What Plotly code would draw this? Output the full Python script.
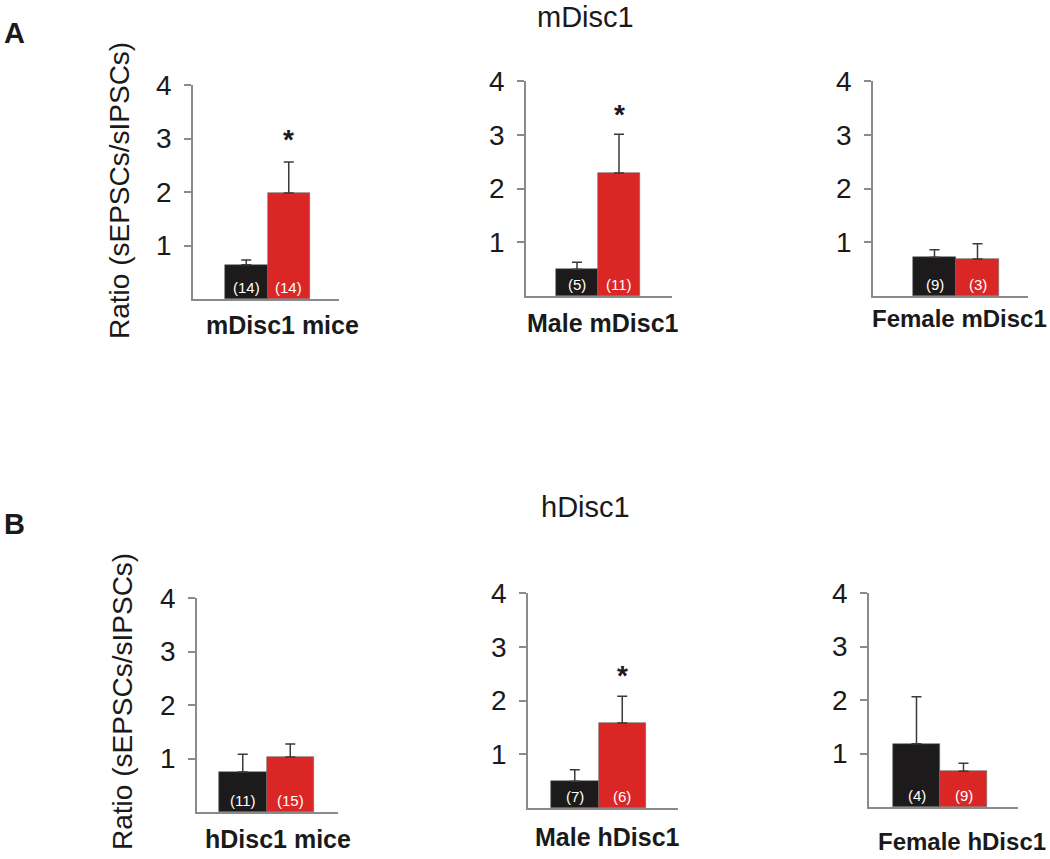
import plotly.graph_objects as go

# ---------------- data ----------------
groups = ["mDisc1 mice", "Male mDisc1", "Female mDisc1",
          "hDisc1 mice", "Male hDisc1", "Female hDisc1"]
ctrl_mean = [0.64, 0.50, 0.72, 0.75, 0.50, 1.18]
ctrl_err = [0.09, 0.13, 0.14, 0.33, 0.21, 0.88]
mut_mean = [1.98, 2.29, 0.69, 1.03, 1.58, 0.67]
mut_err = [0.58, 0.72, 0.28, 0.24, 0.50, 0.15]
ctrl_n = ["(14)", "(5)", "(9)", "(11)", "(7)", "(4)"]
mut_n = ["(14)", "(11)", "(3)", "(15)", "(6)", "(9)"]
star_y = [3.12, 3.5, None, None, 2.6, None]
y_ticks = [1, 2, 3, 4]
section_titles = ["mDisc1", "hDisc1"]
panel_letters = ["A", "B"]
y_title = "Ratio (sEPSCs/sIPSCs)"

# ---------------- layout geometry (pixels) ----------------
W, H = 1050, 859
# (axis left, axis right, black bar left, bar width, baseline, y=4 position)
panels = [
    (193, 339, 225, 42.5, 299, 85),
    (526, 672, 556, 42.0, 296, 81),
    (873, 1028, 913, 43.0, 296, 81),
    (197, 338, 219, 47.5, 812, 598),
    (528, 678, 551, 47.5, 808, 593),
    (869, 1018, 893, 47.0, 807, 593),
]
group_label_pos = [(282, 325), (603, 323), (959, 318),
                   (278, 839), (607, 837), (962, 841)]
group_label_size = [25, 25, 24, 25, 25, 24]

BLACK = "#1c1a1a"
RED = "#da2726"
AXIS = "#8a8a8a"
FONT = "Liberation Sans, Arial, sans-serif"


def px(x):
    return x / W


def py(y):
    return 1 - y / H


fig = go.Figure()
annotations = []
layout_axes = {}

for i, (l, r, bl, w, base, top) in enumerate(panels):
    k = "" if i == 0 else str(i + 1)
    xa, ya = "x" + k, "y" + k
    c0 = bl + w / 2.0
    xr = [(l - c0) / w, (r - c0) / w]
    fig.add_trace(go.Bar(
        x=[0, 1], y=[ctrl_mean[i], mut_mean[i]], width=1,
        marker=dict(color=[BLACK, RED], line=dict(color="#6a6a6a", width=0.6)),
        error_y=dict(type="data", symmetric=False,
                     array=[ctrl_err[i], mut_err[i]], arrayminus=[0, 0],
                     color="#3a3a3a", thickness=1.5, width=5),
        xaxis=xa, yaxis=ya, showlegend=False, hoverinfo="skip"))
    layout_axes["xaxis" + k] = dict(
        domain=[px(l), px(r)], range=xr, showgrid=False, zeroline=False,
        showticklabels=False, ticks="", showline=True, linecolor=AXIS,
        linewidth=1.5, anchor=ya, fixedrange=True, automargin=False)
    layout_axes["yaxis" + k] = dict(
        domain=[py(base), py(top)], range=[0, 4], showgrid=False,
        zeroline=False, tickvals=y_ticks, ticks="outside", ticklen=7,
        tickcolor=AXIS, tickwidth=1.5, showline=True, linecolor=AXIS,
        linewidth=1.5, anchor=xa, ticklabelstandoff=7, automargin=False,
        tickfont=dict(family=FONT, size=28, color="#1a1a1a"), fixedrange=True)
    # n labels
    for xv, txt in zip([0, 1], [ctrl_n[i], mut_n[i]]):
        annotations.append(dict(
            x=xv, y=0, xref=xa, yref=ya, text=txt, showarrow=False,
            yanchor="bottom", yshift=1,
            font=dict(family=FONT, size=15, color="white")))
    # significance star
    if star_y[i] is not None:
        annotations.append(dict(
            x=1, y=star_y[i], xref=xa, yref=ya, text="<b>*</b>",
            showarrow=False, yanchor="middle", yshift=-7,
            font=dict(family=FONT, size=28, color="#1a1a1a")))
    # group label
    gx, gy = group_label_pos[i]
    annotations.append(dict(
        x=px(gx), y=py(gy), xref="paper", yref="paper",
        text="<b>" + groups[i] + "</b>", showarrow=False,
        xanchor="center", yanchor="middle",
        font=dict(family=FONT, size=group_label_size[i], color="#1a1a1a")))

# section titles, letters, y titles
for (tx, ty), t in zip([(585, 17), (585, 507)], section_titles):
    annotations.append(dict(x=px(tx), y=py(ty), xref="paper", yref="paper",
                            text=t, showarrow=False, xanchor="center",
                            yanchor="middle",
                            font=dict(family=FONT, size=29, color="#1a1a1a")))
for (tx, ty), t in zip([(14, 33), (14, 524)], panel_letters):
    annotations.append(dict(x=px(tx), y=py(ty), xref="paper", yref="paper",
                            text="<b>" + t + "</b>", showarrow=False,
                            xanchor="center", yanchor="middle",
                            font=dict(family=FONT, size=29, color="#1a1a1a")))
for (tx, ty) in [(120, 191), (122, 702)]:
    annotations.append(dict(x=px(tx), y=py(ty), xref="paper", yref="paper",
                            text=y_title, showarrow=False, textangle=-90,
                            xanchor="center", yanchor="middle",
                            font=dict(family=FONT, size=28, color="#1a1a1a")))

fig.update_layout(
    width=W, height=H, margin=dict(l=0, r=0, t=0, b=0, autoexpand=False),
    paper_bgcolor="white", plot_bgcolor="white",
    annotations=annotations, bargap=0, **layout_axes)

fig.write_html("out.html", config={"displayModeBar": False},
               post_script="document.body.style.margin='0';"
                           "document.body.style.overflow='hidden';")
